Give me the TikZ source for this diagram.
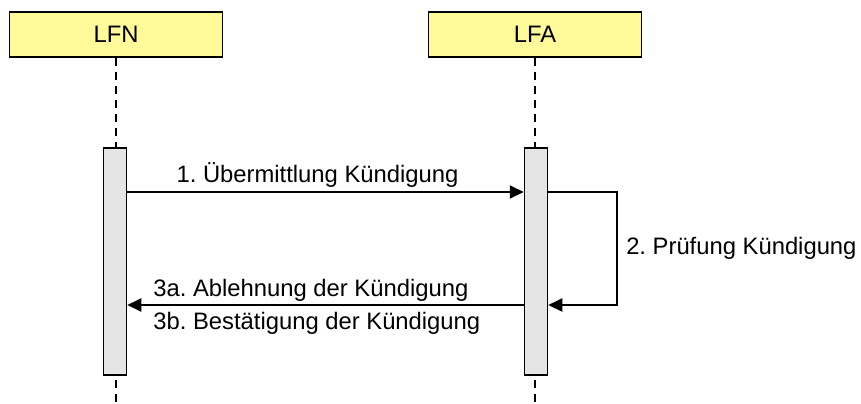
\documentclass[tikz,border=0pt]{standalone}
\usepackage{fontspec}
\setmainfont{Liberation Sans}
\usetikzlibrary{arrows.meta}
\frenchspacing

\begin{document}
\begin{tikzpicture}[x=0.5pt,y=-0.5pt,
	font=\fontsize{11.9}{14}\selectfont,
	actor/.style={rectangle,draw=black,fill=yellow!40,line width=0.9pt,minimum width=106.5pt,minimum height=22.5pt,inner sep=0pt},
	bar/.style={rectangle,draw=black,fill=black!10,line width=0.75pt,minimum width=11.5pt,minimum height=113.5pt,inner sep=0pt},
	life/.style={line width=0.75pt,dash pattern=on 4pt off 3pt},
	msg/.style={line width=1pt,-{Triangle[length=7pt,width=6.5pt]}},
	lbl/.style={inner sep=2pt}]
	\useasboundingbox (0,0) rectangle (861,403);
	% participants
	\node (LFN) at (116, 34.5) [actor] {LFN};
	\node (LFA) at (535, 34.5) [actor] {LFA};
	\coordinate (LFNend) at (116, 403);
	\coordinate (LFAend) at (535, 403);
	\draw [life] (LFN) -- (LFNend)
	             (LFA) -- (LFAend);
	% activation bars
	\node (LFNbar) at (115, 261.5) [bar] {};
	\node (LFAbar) at (536, 261.5) [bar] {};
	% message rows
	\coordinate (m1) at (0, 192);
	\coordinate (m3) at (0, 305);
	\draw [msg] (LFNbar.east |- m1) -- node [lbl,above,xshift=-4pt] (t1) {1. Übermittlung Kündigung} (LFAbar.west |- m1);
	\draw [msg] (LFAbar.east |- m1) -- ++(69,0) -- node [lbl,right,xshift=2pt] (t2) {2. Prüfung Kündigung} ++(0,113) -- (LFAbar.east |- m3);
	\draw [msg] (LFAbar.west |- m3) -- (LFNbar.east |- m3);
	\node (t3a) at (149, 306) [lbl,anchor=south west] {3a. Ablehnung der Kündigung};
	\node (t3b) at (149, 308) [lbl,anchor=north west] {3b. Bestätigung der Kündigung};
\end{tikzpicture}
\end{document}
